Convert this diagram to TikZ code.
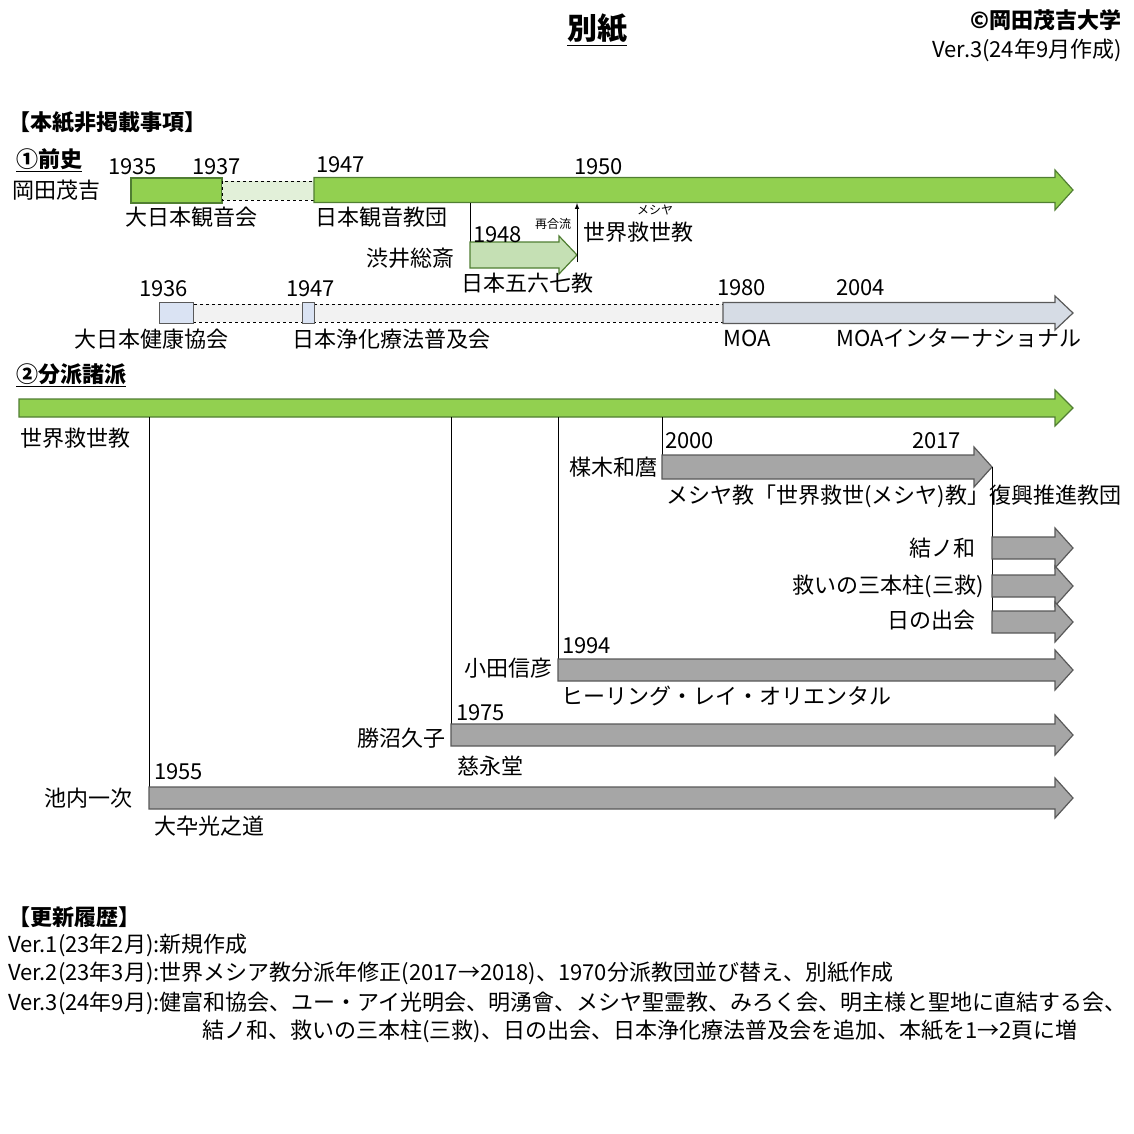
\documentclass[tikz,border=0pt]{standalone}
\usepackage{fontspec}
\setmainfont{Noto Sans CJK JP}
\usetikzlibrary{positioning}
\definecolor{ogreen}{HTML}{92D050}
\definecolor{ogreenln}{HTML}{507E32}
\definecolor{olgreen}{HTML}{E2F0D9}
\definecolor{omgreen}{HTML}{C5E0B4}
\definecolor{oblue}{HTML}{DAE3F3}
\definecolor{obluearr}{HTML}{D6DCE5}
\definecolor{ogrey}{HTML}{A6A6A6}
\definecolor{ogreyln}{HTML}{595959}
\definecolor{olgrey}{HTML}{F2F2F2}
% arrow: start x, tip x, centre y, body half, head half, fill, line colour
\newcommand{\tlarrow}[7]{%
  \filldraw[fill=#6, draw=#7, line width=1.2pt]
    (#1,#3-#4) -- (#2-18,#3-#4) -- (#2-18,#3-#5) -- (#2,#3)
    -- (#2-18,#3+#5) -- (#2-18,#3+#4) -- (#1,#3+#4) -- cycle;}
\tikzset{
  lbl/.style={font=\fontsize{22}{24}\selectfont, inner sep=0pt},
  bold/.style={font=\fontsize{22}{24}\selectfont\bfseries, inner sep=0pt},
  small/.style={font=\fontsize{12}{13}\selectfont, inner sep=0pt},
}
\begin{document}
\begin{tikzpicture}[x=1pt, y=-1pt]
\useasboundingbox (0,0) rectangle (1134,1134);

\node[font=\fontsize{30}{32}\selectfont\bfseries] (title) at (597,30) {\underline{別紙}};
\node[bold, anchor=east] (copy) at (1122,20) {©岡田茂吉大学};
\node[lbl, anchor=east] (ver) at (1122,50) {Ver.3(24年9月作成)};
\node[bold, anchor=west] (hide) at (8,122) {【本紙非掲載事項】};
\node[bold, anchor=west] (pre) at (16,160) {\underline{①前史}};

% row 1
\filldraw[fill=ogreen, draw=ogreenln, line width=1.2pt] (131,178) rectangle (222,203);
\filldraw[fill=olgreen, draw=black, dashed] (222,181) rectangle (314,200);
\tlarrow{314}{1073}{190}{12.5}{20}{ogreen}{ogreenln}
\node[lbl, anchor=west] (y1935) at (108,167) {1935};
\node[lbl, anchor=west] (y1937) at (192,167) {1937};
\node[lbl, anchor=west] (y1947) at (316,165) {1947};
\node[lbl, anchor=west] (y1950) at (574,167) {1950};
\node[lbl, anchor=west] (okada) at (12,190) {岡田茂吉};
\node[lbl, anchor=west] (kannon) at (125,217) {大日本観音会};
\node[lbl, anchor=west] (kyodan) at (315,217) {日本観音教団};
\coordinate (split) at (470,203);
\coordinate (miroku) at (470,268);
\draw[line width=1pt] (split) -- (miroku);
\tlarrow{470}{577}{255}{13}{19}{omgreen}{ogreenln}
\coordinate (back) at (577,262);
\coordinate (join) at (577,203);
\draw[-latex, line width=1pt] (back) -- (join);
\node[lbl, anchor=west] (y1948) at (473,235) {1948};
\node[small] (rejoin) at (553,224) {再合流};
\node[small] (messiah) at (655,210) {メシヤ};
\node[lbl, anchor=west] (sekai1) at (583,232) {世界救世教};
\node[lbl, anchor=east] (shibui) at (455,258) {渋井総斎};
\node[lbl, anchor=west] (gorokushichi) at (461,283) {日本五六七教};

% row 2
\filldraw[fill=olgrey, draw=black, dashed] (193,304) rectangle (723,322);
\filldraw[fill=oblue, draw=ogreyln, line width=1pt] (159,302) rectangle (193,323);
\filldraw[fill=oblue, draw=ogreyln, line width=1pt] (302,302) rectangle (314,323);
\tlarrow{723}{1073}{313}{10.5}{17}{obluearr}{ogreyln}
\node[lbl, anchor=west] (y1936) at (139,289) {1936};
\node[lbl, anchor=west] (y1947b) at (286,289) {1947};
\node[lbl, anchor=west] (y1980) at (717,288) {1980};
\node[lbl, anchor=west] (y2004) at (836,288) {2004};
\node[lbl, anchor=west] (kenko) at (74,339) {大日本健康協会};
\node[lbl, anchor=west] (joka) at (292,339) {日本浄化療法普及会};
\node[lbl, anchor=west] (moa) at (723,338) {MOA};
\node[lbl, anchor=west] (moaint) at (836,338) {MOAインターナショナル};

% branches
\node[bold, anchor=west] (branch) at (16,375) {\underline{②分派諸派}};
\tlarrow{19}{1073}{408}{9}{18}{ogreen}{ogreenln}
\node[lbl, anchor=west] (sekai2) at (20,438) {世界救世教};

\foreach \name/\x/\y in {ikeuchi/149/798, katsunuma/451/735, oda/558/670, umeki/662/467}{
  \coordinate (\name top) at (\x,417);
  \coordinate (\name bot) at (\x,\y);
  \draw[line width=1pt] (\name top) -- (\name bot);
}
\tlarrow{662}{992}{467}{12}{20}{ogrey}{ogreyln}
\node[lbl, anchor=west] (y2000) at (665,441) {2000};
\node[lbl, anchor=west] (y2017) at (912,441) {2017};
\node[lbl, anchor=east] (umeki) at (658,467) {楳木和麿};
\node[lbl, anchor=west] (fukko) at (666,496) {メシヤ教「世界救世(メシヤ)教」復興推進教団};
\coordinate (fork) at (992,467);
\coordinate (forkend) at (992,633);
\draw[line width=1pt] (fork) -- (forkend);
\foreach \y in {548,586,622}{
  \tlarrow{992}{1073}{\y}{11}{20}{ogrey}{ogreyln}
}
\node[lbl, anchor=east] (yuino) at (976,548) {結ノ和};
\node[lbl, anchor=east] (sankyu) at (984,586) {救いの三本柱(三救)};
\node[lbl, anchor=east] (hinode) at (976,620) {日の出会};

\tlarrow{558}{1073}{670}{11}{20}{ogrey}{ogreyln}
\node[lbl, anchor=west] (y1994) at (562,646) {1994};
\node[lbl, anchor=east] (odan) at (553,668) {小田信彦};
\node[lbl, anchor=west] (healing) at (561,696) {ヒーリング・レイ・オリエンタル};

\tlarrow{451}{1073}{735}{11}{20}{ogrey}{ogreyln}
\node[lbl, anchor=west] (y1975) at (456,713) {1975};
\node[lbl, anchor=east] (katsu) at (446,738) {勝沼久子};
\node[lbl, anchor=west] (jiei) at (457,766) {慈永堂};

\tlarrow{149}{1073}{798}{11}{20}{ogrey}{ogreyln}
\node[lbl, anchor=west] (y1955) at (154,772) {1955};
\node[lbl, anchor=east] (ikeu) at (133,798) {池内一次};
\node[lbl, anchor=west] (daisotsu) at (154,826) {大卆光之道};

% history
\node[bold, anchor=west] (hist) at (8,917) {【更新履歴】};
\node[lbl, anchor=west] (v1) at (8,945) {Ver.1(23年2月):新規作成};
\node[lbl, anchor=west] (v2) at (8,973) {Ver.2(23年3月):世界メシア教分派年修正(2017→2018)、1970分派教団並び替え、別紙作成};
\node[lbl, anchor=west] (v3) at (8,1003) {Ver.3(24年9月):健富和協会、ユー・アイ光明会、明湧會、メシヤ聖霊教、みろく会、明主様と聖地に直結する会、};
\node[lbl, anchor=west] (v3b) at (202,1031) {結ノ和、救いの三本柱(三救)、日の出会、日本浄化療法普及会を追加、本紙を1→2頁に増};
\end{tikzpicture}
\end{document}
